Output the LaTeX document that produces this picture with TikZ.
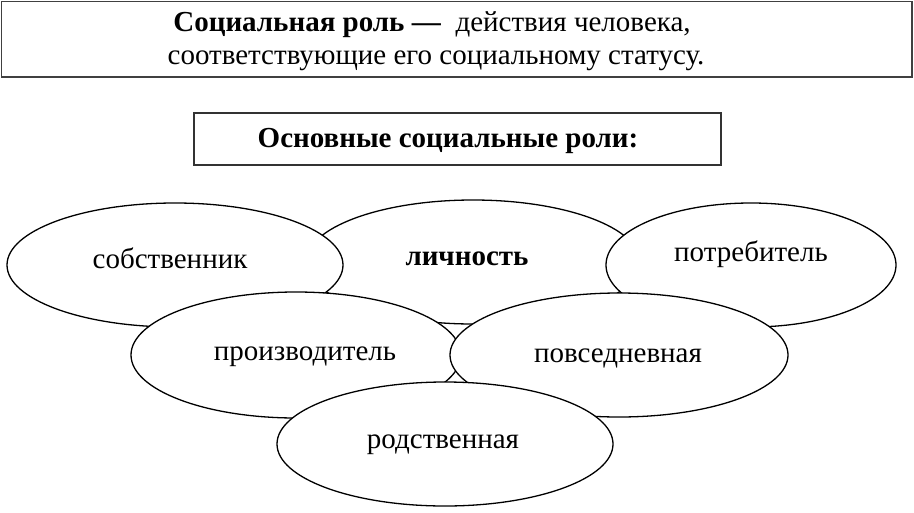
\documentclass[tikz,border=0pt]{standalone}
\usepackage{fontspec}
\setmainfont{Liberation Serif}
\usetikzlibrary{shapes.geometric}
% text of a role, moved right by #1 and raised by #2
\newcommand{\roletext}[3]{\raisebox{#2}[0pt][0pt]{\makebox[0pt]{\kern#1 #3\kern-#1}}}
\begin{document}
\begin{tikzpicture}[x=1pt, y=-1pt,
	role/.style={ draw, ellipse, fill=white, line width=1.3pt, inner sep=0pt,
		font=\fontsize{29}{34}\selectfont },
	framebox/.style={ draw=black!75, line width=1.5pt }]
	\useasboundingbox (0,0) rectangle (914,512);
	% Top definition box
	\draw[ framebox ] (1.5,1.5) rectangle (912,77);
	\node[ align=center, font=\fontsize{29}{33}\selectfont ] (defin) at (436,41.5)
		{\textbf{Социальная роль —}\ \ действия человека,\hspace*{8pt}\\
		 соответствующие его социальному статусу.};
	% Heading box
	\draw[ line width=1.2pt, draw=black!80 ] (194,113) rectangle (721,165);
	\node[ font=\fontsize{29}{34}\selectfont\bfseries ] (head) at (448,141)
		{Основные социальные роли:};
	% Back row of roles
	\node[ role, minimum width=334, minimum height=124 ] (lichn) at (473,262)
		{\roletext{-6pt}{-3pt}{\textbf{личность}}};
	\node[ role, minimum width=336, minimum height=124 ] (sobst) at (175,265)
		{\roletext{-5pt}{-3pt}{собственник}};
	\node[ role, minimum width=290, minimum height=124 ] (potreb) at (751,265)
		{\roletext{0pt}{4pt}{потребитель}};
	% Middle row of roles
	\node[ role, minimum width=330, minimum height=126 ] (proizv) at (296,355)
		{\roletext{9pt}{-5pt}{производитель}};
	\node[ role, minimum width=338, minimum height=124 ] (povsed) at (619,355)
		{\roletext{-1pt}{-7pt}{повседневная}};
	% Front role
	\node[ role, minimum width=336, minimum height=124 ] (rodstv) at (445,444)
		{\roletext{-2pt}{-4pt}{родственная}};
\end{tikzpicture}
\end{document}
